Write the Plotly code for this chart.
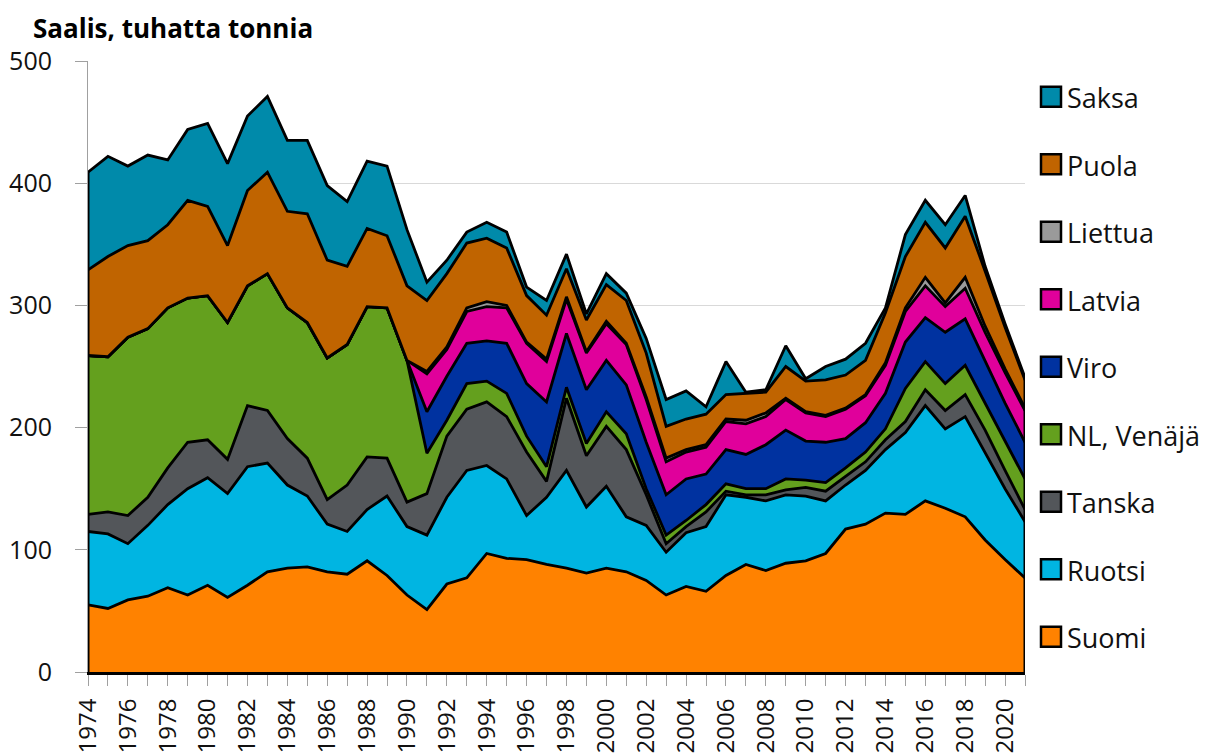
import plotly.graph_objects as go

years = list(range(1974, 2022))

suomi = [55, 52, 59, 62, 69, 63, 71, 61, 71, 82, 85, 86, 82, 80, 91, 79,
         63, 51, 72, 77, 97, 93, 92, 88, 85, 81, 85, 82, 75, 63, 70, 66,
         79, 88, 83, 89, 91, 97, 117, 121, 130, 129, 140, 134, 127, 108, 92, 77]
ruotsi = [60, 61, 46, 58, 68, 87, 88, 85, 97, 89, 68, 58, 39, 35, 42, 65,
          56, 61, 71, 88, 72, 65, 36, 55, 80, 54, 67, 45, 45, 35, 44, 53,
          66, 55, 57, 56, 53, 43, 36, 44, 52, 67, 78, 65, 82, 71, 58, 46]
tanska = [14, 18, 23, 23, 30, 38, 31, 28, 50, 43, 38, 31, 20, 38, 43, 31,
          20, 34, 50, 50, 52, 51, 52, 13, 59, 42, 49, 55, 25, 7, 5, 12,
          3, 2, 5, 4, 7, 8, 7, 7, 8, 9, 13, 15, 18, 19, 15, 10]
nl_venaja = [130, 127, 146, 138, 131, 118, 118, 112, 98, 112, 107, 111, 116, 115, 123, 123,
             116, 33, 13, 21, 17, 19, 13, 12, 9, 10, 12, 13, 5, 7, 5, 6,
             6, 5, 5, 9, 6, 7, 7, 8, 9, 27, 23, 22, 24, 22, 23, 25]
viro = [None] * 16 + [0, 34, 36, 33, 33, 41, 43, 53, 44, 44, 42, 40, 38, 33, 34, 25,
                      28, 28, 36, 40, 32, 33, 24, 24, 29, 38, 36, 42, 38, 35, 32, 30]
latvia = [None] * 16 + [0, 31, 22, 26, 28, 29, 33, 33, 28, 30, 30, 33, 35, 27, 22, 22,
                        23, 25, 23, 25, 23, 21, 24, 22, 23, 25, 26, 21, 25, 23, 25, 26]
liettua = [None] * 16 + [0, 2, 2, 3, 4, 2, 1, 2, 2, 1, 2, 1, 2, 3, 2, 2,
                         2, 3, 3, 1, 1, 1, 1, 1, 2, 3, 7, 3, 9, 5, 3, 2]
puola = [70, 82, 75, 72, 68, 80, 73, 63, 78, 83, 79, 89, 80, 64, 64, 59,
         61, 58, 60, 53, 52, 47, 38, 36, 23, 26, 30, 35, 36, 26, 25, 25,
         20, 22, 17, 26, 25, 29, 27, 28, 41, 42, 45, 45, 50, 45, 34, 23]
saksa = [80, 82, 65, 70, 53, 58, 68, 67, 61, 62, 58, 60, 61, 53, 55, 57,
         46, 15, 11, 9, 13, 13, 7, 12, 12, 5, 9, 6, 12, 22, 23, 6,
         27, 1, 2, 17, 2, 11, 13, 14, 4, 18, 18, 19, 17, 4, 3, 2]

series_names = ["Suomi", "Ruotsi", "Tanska", "NL, Venäjä", "Viro",
                "Latvia", "Liettua", "Puola", "Saksa"]
series_values = [suomi, ruotsi, tanska, nl_venaja, viro, latvia, liettua, puola, saksa]
series_colors = ["#FF8200", "#00B5E2", "#53565A", "#64A01E", "#0032A0",
                 "#E0009B", "#9A9A9A", "#C06400", "#008AAA"]

y_ticks = [0, 100, 200, 300, 400, 500]
x_ticktext = [str(y) if y % 2 == 0 else "" for y in years]

fig = go.Figure()
for name, vals, col in zip(series_names, series_values, series_colors):
    fig.add_trace(go.Scatter(
        x=years, y=vals, name=name, mode="lines", stackgroup="one",
        line=dict(color="black", width=2.8), fillcolor=col,
        showlegend=False, hoverinfo="skip",
    ))

# outline at the left and right edges of the stack
totals = [sum(v[i] or 0 for v in series_values) for i in range(len(years))]
for idx in (0, len(years) - 1):
    fig.add_trace(go.Scatter(
        x=[years[idx], years[idx]], y=[0, totals[idx]], mode="lines",
        line=dict(color="black", width=3), showlegend=False,
        cliponaxis=False, hoverinfo="skip",
    ))

# the page body has an 8px margin: size the figure so the plot lands in place
OFF = 8
W, H = 1207 - OFF, 756 - OFF
L, T = 88 - OFF, 61 - OFF
R = W - (1025 - OFF)
B = H - (672 - OFF)
pw, ph = W - L - R, H - T - B


def px_x(sx):
    return (sx - OFF - L) / pw


def px_y(sy):
    return (H - B - (sy - OFF)) / ph


# manual legend (top trace first)
shapes = []
annotations = []
for i, (name, col) in enumerate(zip(series_names[::-1], series_colors[::-1])):
    cy = 96.7 + i * 67.5
    shapes.append(dict(
        type="rect", xref="paper", yref="paper",
        x0=px_x(1041), x1=px_x(1061), y0=px_y(cy + 10), y1=px_y(cy - 10),
        fillcolor=col, line=dict(color="black", width=2.5),
    ))
    annotations.append(dict(
        text=name, xref="paper", yref="paper", x=px_x(1065), y=px_y(cy + 1),
        xanchor="left", yanchor="middle", showarrow=False,
        font=dict(size=27, color="#111", family="Open Sans"),
    ))

annotations.append(dict(
    text="<b>Saalis, tuhatta tonnia</b>", xref="paper", yref="paper",
    x=px_x(31), y=px_y(8), xanchor="left", yanchor="top", showarrow=False,
    font=dict(size=26, color="#000", family="Open Sans"),
))

fig.update_layout(
    width=W, height=H, autosize=False,
    margin=dict(l=L, r=R, t=T, b=B, pad=0, autoexpand=False),
    plot_bgcolor="white", paper_bgcolor="white",
    font=dict(family="Open Sans", size=24, color="#111"),
    showlegend=False,
    shapes=shapes, annotations=annotations,
    xaxis=dict(
        range=[years[0], years[-1]], tickmode="array", tickvals=years,
        ticktext=x_ticktext, tickangle=-90, ticks="outside", ticklen=11,
        tickcolor="#A0A0A0", tickwidth=1, tickfont=dict(size=24),
        showline=True, linecolor="black", linewidth=3, showgrid=False,
        zeroline=False, ticklabelstandoff=3, fixedrange=True,
        automargin=False,
    ),
    yaxis=dict(
        range=[0, 500], tickmode="array", tickvals=y_ticks,
        ticks="outside", ticklen=12, tickcolor="#A0A0A0", tickwidth=1,
        tickfont=dict(size=25), showline=True, linecolor="#A0A0A0",
        linewidth=1, showgrid=True, gridcolor="#D9D9D9", gridwidth=1,
        zeroline=False, layer="below traces", ticklabelstandoff=18,
        fixedrange=True, automargin=False,
    ),
)

fig.write_html("out.html")
